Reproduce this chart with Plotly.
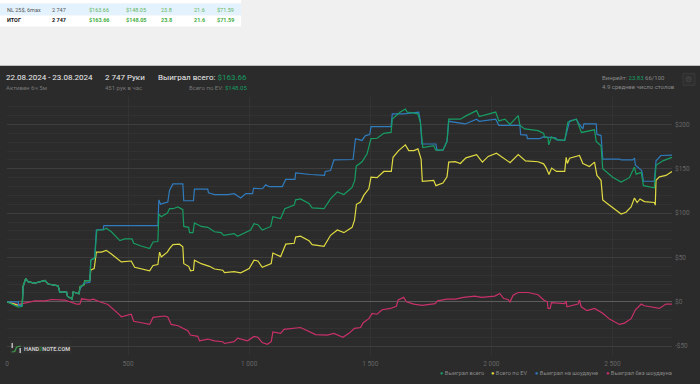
import plotly.graph_objects as go

W, H = 700, 384
L, R, T, B = 5.3, 28, 96.7, 29

green_x = [0,47,63,66,77,88,115,157,170,211,218,246,250,269,273,297,302,318,321,342,346,362,371,397,410,431,466,486,516,523,554,589,603,623,627,637,662,671,685,706,726,730,750,754,768,774,802,829,857,884,895,938,952,1006,1020,1036,1054,1089,1098,1130,1147,1186,1192,1212,1247,1260,1309,1336,1364,1391,1425,1436,1442,1466,1487,1503,1528,1556,1586,1591,1624,1645,1652,1697,1707,1713,1717,1762,1771,1800,1817,1824,1872,1897,1939,1950,1980,2018,2031,2056,2077,2111,2118,2138,2193,2216,2220,2234,2237,2248,2269,2303,2316,2351,2372,2426,2433,2453,2460,2501,2536,2570,2591,2598,2619,2628,2673,2680,2708,2746]
green_y = [0,-6,-5,17,26,22.5,21,24,20,18,11,11,6,3,11,9,17,19,24,24,47,49,81,81,83,79,69,71,71,66,63,60,67.5,68,99,96,100,105,105,107,104,85,84,78,78,89,85,84,79,78,75,77,74,81,88,87,81,85,96,94,105,109,115,116,111,106,105,116,124,121,129,137,153,158,167,184,184.5,190,191,206,214,217.5,214,212,202.5,178,174,176,171,171,181,206,206,210,215.6,209,211,214,204,206,200,210,199,195,193,190,186,185,177,186,183,182,202.5,206,191,194,181,176,150,140.6,135,140,152,144,146,131,128.6,154,159,163]

blue_x = [0,47,47,63,67,77,88,115,157,170,211,218,246,250,269,273,297,302,318,342,346,362,369,397,400,623,627,634,644,664,671,685,726,730,770,774,829,832,857,912,938,965,986,1014,1018,1055,1068,1082,1137,1151,1189,1192,1254,1311,1314,1336,1350,1429,1439,1466,1480,1498,1503,1586,1591,1638,1700,1707,1713,1771,1776,1800,1817,1824,1892,1939,1950,2018,2031,2118,2121,2146,2149,2200,2213,2266,2271,2303,2323,2351,2362,2378,2382,2433,2436,2453,2460,2529,2536,2584,2591,2595,2621,2628,2673,2680,2700,2746]
blue_y = [0,0,-4,-4,17,26,22.5,21,24,20,18,11,11,6,3,11,9,15,21,22,47,50,81,81.5,86,86,115,110,111,112.5,125.6,133,133,114,114,127,127,123,121,121,122,117,122,122,128,127.5,132,130,130,138,138,145.5,143.6,142.5,147,148,160,160.5,184,182,187.5,188.6,197.6,197.6,212,212,214,203.6,178,178,171,171,181,203.6,200.6,206,203.6,206,199,199,188.6,188,184,184,186,185,182.6,182,204,206,200.6,195,200.6,200.6,189,187.5,161,161,160,160,162,154,148,136,136,159,165,165.4]

ev_x = [0,47,63,66,77,88,115,157,170,211,218,246,250,269,273,297,302,318,321,342,346,360,369,390,410,431,472,513,527,555,589,603,623,630,637,662,671,685,712,726,730,750,758,770,774,802,836,857,891,898,938,965,1000,1020,1036,1054,1091,1098,1130,1151,1186,1192,1212,1247,1260,1309,1336,1364,1391,1425,1435,1443,1460,1473,1494,1503,1528,1556,1587,1594,1617,1645,1659,1680,1697,1710,1715,1762,1771,1800,1817,1824,1851,1872,1895,1939,1963,1987,2021,2077,2111,2141,2193,2216,2227,2238,2249,2269,2303,2309,2314,2323,2364,2378,2405,2426,2436,2453,2460,2488,2536,2556,2577,2591,2602,2614,2632,2673,2677,2680,2694,2721,2746]
ev_y = [0,-4,-4,17,26,22.5,21,24,20,18,11,11,6,3,11,9,17,19,24,24,36,37.5,56,56,58,54,45,46,39,37.5,35,41,42,56,50.6,56,60,64.5,65,62,43,40,35,35.6,47,43,40,37,35.6,33,34,32.6,37.5,47,46,39,43,55,51,65,66,73,74,69,64.5,62.6,75,81,78,84,92,110,112.5,120,127.5,140.6,140,147,147,163,170.6,177,170.6,170.6,172.5,161,136,137,131,134,141,157.5,158,156,162.4,166,157.5,164,167.6,157,166,159,158,155.6,150.8,143.6,150.8,147,147,163,156,162,165,156,152.6,157.5,142.5,137,115,109,99,101,107,117,112,116,113,112,109,137,141,142.5,147]

nosd_x = [0,47,63,88,115,157,184,239,287,301,308,342,356,383,417,466,472,513,523,555,589,603,651,664,678,706,747,757,788,795,829,857,891,898,938,952,993,1020,1036,1054,1075,1091,1098,1130,1144,1212,1247,1274,1322,1350,1387,1412,1435,1460,1471,1494,1508,1528,1549,1583,1608,1615,1638,1649,1680,1714,1768,1778,1816,1851,1885,1932,1959,2014,2035,2051,2069,2077,2090,2111,2152,2193,2216,2231,2234,2243,2248,2303,2309,2312,2358,2364,2371,2395,2426,2460,2488,2529,2550,2577,2595,2619,2632,2694,2721,2746]
nosd_y = [0,-3,-2,-0.8,1,1,2.6,2,-2.6,-2.6,3.4,2,3,0,-3,-15,-17,-14,-22,-23.6,-25.5,-17.6,-16,-17,-25.5,-27,-32.6,-37.5,-39,-44,-42,-44,-45,-47,-45,-41,-44,-39,-40,-46,-48,-45,-34,-35.6,-31,-29,-34,-37,-37.5,-35.6,-40,-35.6,-30,-29,-23.6,-19,-13,-14,-9,-7.5,-5,2,5,0,-2.6,-4,-2,1,3,3,5,6.4,5,6.4,9.4,3.7,2.6,0,7.5,10.5,10.5,8,2,0,-7.5,-7.5,-1,-2,1,-5.6,-2.6,2,-5.6,-10,-7.5,-13,-19.5,-25.5,-24,-19,-9,-2.6,-4.5,-7.5,-2.6,-2.6]

series_names = ["Выиграл всего", "Всего по EV", "Выиграл на шоудауне", "Выиграл без шоудауна"]
series_colors = ["#179c62", "#dfda42", "#2f7bbd", "#c9306a"]

x_ticks = [0, 500, 1000, 1500, 2000, 2500]
x_labels = ["0", "500", "1 000", "1 500", "2 000", "2 500"]
y_ticks = [-50, 0, 50, 100, 150, 200]
y_labels = ["-$50", "$0", "$50", "$100", "$150", "$200"]

table_rows = [
    ["NL 25$, 6max", "2 747", "$163.66", "$148.05", "23.8", "21.6", "$71.59"],
    ["ИТОГ", "2 747", "$163.66", "$148.05", "23.8", "21.6", "$71.59"],
]

FONT = "Roboto"
fig = go.Figure()
for xs, ys, name, col in [
    (nosd_x, nosd_y, series_names[3], series_colors[3]),
    (ev_x, ev_y, series_names[1], series_colors[1]),
    (blue_x, blue_y, series_names[2], series_colors[2]),
    (green_x, green_y, series_names[0], series_colors[0]),
]:
    fig.add_trace(go.Scatter(x=xs, y=ys, mode="lines", name=name, line=dict(color=col, width=1.2), showlegend=False))

pw = W - L - R
ph = H - T - B
def px(x): return (x - L) / pw
def py(y): return 1 - (y - T) / ph

def rect(x0, y0, x1, y1, fill, line=None):
    return dict(type="rect", xref="paper", yref="paper", x0=px(x0), x1=px(x1), y0=py(y0), y1=py(y1),
                fillcolor=fill, line=dict(color=line, width=1) if line else dict(width=0), layer="below")

shapes = [
    rect(-5, -5, 705, 65.5, "#f0f0f0"),
    rect(-5, -5, 240, 3, "#ffffff"),
    rect(-5, 3, 240, 15, "#e3f2fd"),
    rect(-5, 15, 240, 26, "#ffffff"),
    rect(683, 73, 695, 85, "#2f2f2f", "#3a3a3a"),
    rect(8, 340, 70, 354, "#2f2f2f"),
    dict(type="line", xref="paper", yref="paper", x0=px(10.5), x1=px(10.5), y0=py(343), y1=py(348), line=dict(color="#dddddd", width=1.2)),
    dict(type="line", xref="paper", yref="paper", x0=px(18.5), x1=px(18.5), y0=py(348), y1=py(353), line=dict(color="#dddddd", width=1.2)),
    dict(type="path", xref="paper", yref="paper", line=dict(color="#3f9e4a", width=1.2),
         path=f"M {px(10)} {py(352)} L {px(13)} {py(351.5)} L {px(15)} {py(347)} L {px(19)} {py(346)}"),
]

def note(x, y, text, size=7, color="#999999", anchor="left", bold=False):
    t = f"<b>{text}</b>" if bold else text
    return dict(xref="paper", yref="paper", x=px(x), y=py(y), text=t, showarrow=False, xanchor=anchor, yanchor="middle",
                borderpad=0, borderwidth=0, xshift=-1 if anchor == "left" else (1 if anchor == "right" else 0),
                font=dict(family=FONT, size=size, color=color), align=anchor)

notes = []
col_x = [6, 51, 89, 126, 161, 194, 217]
for row, y, bold in zip(table_rows, [9.5, 20], [False, True]):
    for c_i, val in enumerate(row):
        c = "#555555" if c_i < 2 else "#63b863"
        if bold and c_i < 2:
            c = "#111111"
        if bold and c_i >= 2:
            c = "#3fae3f"
        notes.append(note(col_x[c_i], y, val, size=5.5, color=c, bold=bold))

GR = series_colors[0]
notes += [
    note(5.5, 77, "22.08.2024 - 23.08.2024", size=8, color="#eeeeee"),
    note(105, 77, "2 747 Руки", size=8, color="#eeeeee"),
    note(158, 77, f"Выиграл всего: <span style='color:{GR}'>$163.66</span>", size=8, color="#eeeeee"),
    note(5.5, 87, "Активен 6ч 5м", size=6, color="#777777"),
    note(105, 87, "451 рук в час", size=6, color="#777777"),
    note(245, 87, f"Всего по EV: <span style='color:{GR}'>$148.05</span>", size=6, color="#777777", anchor="right"),
    note(602.5, 77, f"Винрейт: <span style='color:{GR}'>23.83</span> 66/100", size=6, color="#888888"),
    note(602.5, 86.5, "4.9 среднее число столов", size=6, color="#888888"),
    note(689, 79, "⚙", size=8, color="#4a4a4a", anchor="center"),
    note(23, 348.5, "HAND<span style='color:#2e8b3d'>2</span>NOTE.COM", size=5.5, color="#cccccc", bold=True),
    note(440, 373, f"<span style='color:{series_colors[0]}'>●</span> {series_names[0]}", size=5.7, color="#888888"),
    note(491.5, 373, f"<span style='color:{series_colors[1]}'>●</span> {series_names[1]}", size=5.7, color="#888888"),
    note(535.5, 373, f"<span style='color:{series_colors[2]}'>●</span> {series_names[2]}", size=5.7, color="#888888"),
    note(607, 373, f"<span style='color:{series_colors[3]}'>●</span> {series_names[3]}", size=5.7, color="#888888"),
]

fig.update_layout(
    width=W, height=H, autosize=False,
    margin=dict(l=L, r=R, t=T, b=B, pad=0),
    paper_bgcolor="#2b2b2b", plot_bgcolor="#2b2b2b",
    shapes=shapes, annotations=notes, showlegend=False,
    font=dict(family=FONT, color="#666666", size=7),
    xaxis=dict(range=[0, 2746], tickmode="array", tickvals=x_ticks, ticktext=x_labels, showgrid=True,
               gridcolor="#333333", gridwidth=1, zeroline=False, showline=False, ticks="", tickfont=dict(size=6.5, color="#666666", family=FONT), ticklabelstandoff=3),
    yaxis=dict(range=[-60, 231], side="right", tickmode="array", tickvals=y_ticks, ticktext=y_labels, showgrid=True,
               gridcolor="#3e3e3e", gridwidth=1, zeroline=True, zerolinecolor="#5c5c5c", zerolinewidth=1.2,
               showline=False, ticks="", tickfont=dict(size=6.5, color="#666666", family=FONT), ticklabelstandoff=2,
               minor=dict(dtick=10, tick0=0, showgrid=True, gridcolor="#323232", gridwidth=1, ticks="")),
)

fig.write_html("out.html", config={"displayModeBar": False},
               post_script="document.body.style.margin='0';document.body.style.overflow='hidden';")
